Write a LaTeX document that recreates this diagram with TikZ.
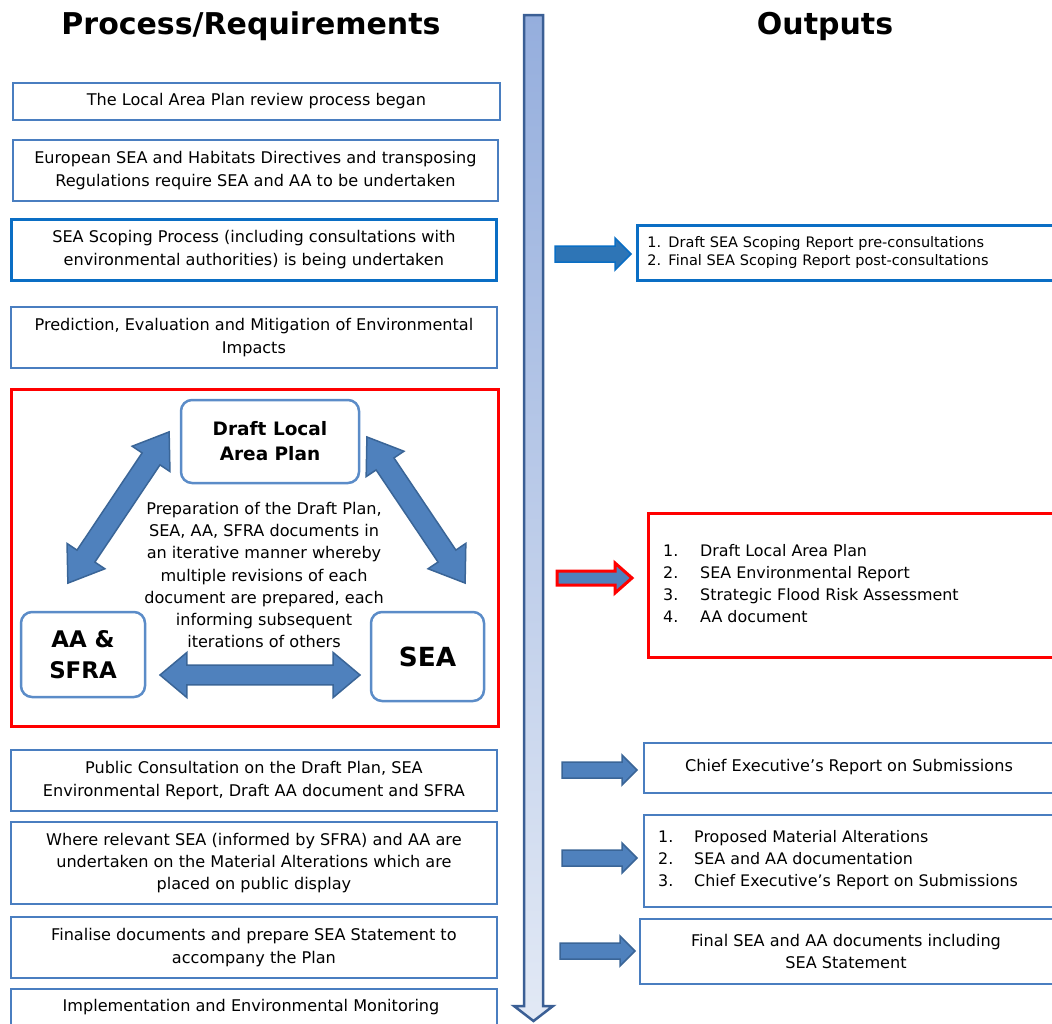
\documentclass[tikz,border=0pt]{standalone}
\usepackage{fontspec}
\setmainfont{DejaVu Sans}
\usetikzlibrary{shapes.arrows,calc}
\definecolor{boxblue}{HTML}{4A7EC0}
\definecolor{strongblue}{HTML}{0A6EC4}
\definecolor{arrfill}{HTML}{4F81BD}
\definecolor{arrline}{HTML}{3A6597}
\definecolor{darrfill}{HTML}{2E75B6}
\definecolor{rndblue}{HTML}{5B8CC8}
\definecolor{shaftline}{HTML}{3B5F95}
\definecolor{shafttop}{HTML}{95AEDD}
\definecolor{shaftbot}{HTML}{E2E9F5}
\newcommand{\bodyfont}{\fontsize{16.1}{23}\selectfont}
\newcommand{\listfont}{\fontsize{15.9}{22.3}\selectfont}
\newcommand{\smallfont}{\fontsize{14.5}{18}\selectfont}
\newcommand{\barrowpath}[7]{%
  \draw[#1] (#2,{#4-#5}) -- (#7,{#4-#5}) -- (#7,{#4-#6}) -- (#3,#4) -- (#7,{#4+#6}) -- (#7,{#4+#5}) -- (#2,{#4+#5}) -- cycle;}
\tikzset{
  lbox/.style={draw=boxblue, line width=1.8pt, fill=white, anchor=north west, align=center, inner sep=0pt, font=\bodyfont},
  sbox/.style={lbox, draw=strongblue, line width=2.8pt},
  redbox/.style={draw=red, line width=2.8pt, anchor=north west, inner sep=0pt},
  rnd/.style={draw=rndblue, line width=2.5pt, fill=white, rounded corners=11pt, align=center, inner sep=0pt, font=\bfseries\fontsize{18.5}{25}\selectfont},
  rnbig/.style={rnd, font=\bfseries\fontsize{22.9}{31}\selectfont},
  blockar/.style={fill=arrfill, draw=arrline, line width=1.5pt, line join=miter},
  blockarS/.style={fill=darrfill, draw=strongblue, line width=1.5pt},
  blockarR/.style={fill=arrfill, draw=red, line width=3pt},
  darr/.style={double arrow, fill=arrfill, draw=arrline, line width=1.5pt, inner xsep=0pt, inner ysep=10pt, minimum width=44pt, double arrow head extend=12pt, double arrow head indent=0pt, double arrow tip angle=70},
  head/.style={font=\bfseries\fontsize{30}{34}\selectfont}
}
\begin{document}
\begin{tikzpicture}[x=1pt,y=-1pt]
\useasboundingbox (0,0) rectangle (1052,1023);
% headers
\node[head] (hl) at (251,26) {Process/Requirements};
\node[head] (hr) at (825,26) {Outputs};
% central shaft arrow
\draw[line width=2.5pt, draw=shaftline, top color=shafttop, bottom color=shaftbot, line join=miter]
  (524,15) -- (543,15) -- (543,1006) -- (553,1006) -- (533.5,1021) -- (514,1006) -- (524,1006) -- cycle;
% left column boxes
\node[lbox, minimum width=487pt, minimum height=37pt] (b1) at (12,82) {The Local Area Plan review process began};
\node[lbox, minimum width=485pt, minimum height=61pt] (b2) at (12,139) {European SEA and Habitats Directives and transposing\\Regulations require SEA and AA to be undertaken};
\node[sbox, minimum width=485pt, minimum height=61pt] (b3) at (10,218) {SEA Scoping Process (including consultations with\\environmental authorities) is being undertaken};
\node[lbox, minimum width=486pt, minimum height=61pt] (b4) at (10,306) {Prediction, Evaluation and Mitigation of Environmental\\Impacts};
\node[redbox, minimum width=487pt, minimum height=337pt] (b5) at (10,388) {};
\node[lbox, minimum width=486pt, minimum height=61pt] (b6) at (10,749) {Public Consultation on the Draft Plan, SEA\\Environmental Report, Draft AA document and SFRA};
\node[lbox, minimum width=486pt, minimum height=82pt, font=\fontsize{16.1}{22}\selectfont] (b7) at (10,821) {Where relevant SEA (informed by SFRA) and AA are\\undertaken on the Material Alterations which are\\placed on public display};
\node[lbox, minimum width=486pt, minimum height=61pt] (b8) at (10,916) {Finalise documents and prepare SEA Statement to\\accompany the Plan};
\node[lbox, minimum width=486pt, minimum height=70pt, anchor=north west] (b9) at (10,988) {};
\node[font=\bodyfont] (b9t) at (251,1007) {Implementation and Environmental Monitoring};
% triangle inside red box
\node[rnd, minimum width=178pt, minimum height=83pt] (dlap) at (270,441.5) {Draft Local\\Area Plan};
\node[rnbig, minimum width=124pt, minimum height=85pt] (aa) at (83,654.5) {AA \&\\SFRA};
\node[rnbig, minimum width=113pt, minimum height=89pt, font=\bfseries\fontsize{26.3}{31}\selectfont] (sea) at (427.5,656.5) {SEA};
\node[align=center, font=\fontsize{16.1}{22.3}\selectfont, inner sep=0pt] (mid) at (264,575) {Preparation of the Draft Plan,\\SEA, AA, SFRA documents in\\an iterative manner whereby\\multiple revisions of each\\document are prepared, each\\informing subsequent\\iterations of others};
\coordinate (l1) at (68,583);
\coordinate (l2) at (169,432);
\coordinate (r1) at (367,437);
\coordinate (r2) at (465,583);
\coordinate (h1) at (160,675);
\coordinate (h2) at (360,675);
\node[darr, minimum height=182pt, rotate=56.2] (dl) at ($(l1)!0.5!(l2)$) {};
\node[darr, minimum height=176pt, rotate=-56.1] (dr) at ($(r1)!0.5!(r2)$) {};
\node[darr, minimum height=200pt, minimum width=45pt, inner ysep=8.5pt, double arrow tip angle=80] (dh) at ($(h1)!0.5!(h2)$) {};
% right column boxes
\node[sbox, minimum width=425pt, minimum height=55pt, align=left, text width=405pt, inner xsep=8pt, font=\smallfont] (o1) at (636,224) {1. Draft SEA Scoping Report pre-consultations\\2. Final SEA Scoping Report post-consultations};
\node[redbox, minimum width=420pt, minimum height=144pt, fill=white] (o2) at (647,512) {};
\node[anchor=west, inner sep=0pt, font=\listfont] (o2t) at (663,585) {\begin{tabular}{@{}p{37pt}@{}l@{}}1. & Draft Local Area Plan\\2. & SEA Environmental Report\\3. & Strategic Flood Risk Assessment\\4. & AA document\end{tabular}};
\node[lbox, minimum width=420pt, minimum height=50pt] (o3) at (643,742) {};
\node[font=\bodyfont] (o3t) at (849,767) {Chief Executive’s Report on Submissions};
\node[lbox, minimum width=420pt, minimum height=92pt] (o4) at (643,814) {};
\node[anchor=west, inner sep=0pt, font=\fontsize{15.9}{22}\selectfont] (o4t) at (658,860) {\begin{tabular}{@{}p{36pt}@{}l@{}}1. & Proposed Material Alterations\\2. & SEA and AA documentation\\3. & Chief Executive’s Report on Submissions\end{tabular}};
\node[lbox, minimum width=425pt, minimum height=65pt] (o5) at (639,918) {};
\node[align=center, font=\fontsize{16.1}{22}\selectfont] (o5t) at (846,951) {Final SEA and AA documents including\\SEA Statement};
% block arrows
\barrowpath{blockarS}{555}{631}{254}{8}{16}{615}
\barrowpath{blockarR}{557}{632}{578}{7}{15}{615}
\barrowpath{blockar}{562}{637}{770}{8}{15}{622}
\barrowpath{blockar}{562}{637}{858}{8}{15}{622}
\barrowpath{blockar}{560}{635}{951}{8}{15}{620}
\end{tikzpicture}
\end{document}
